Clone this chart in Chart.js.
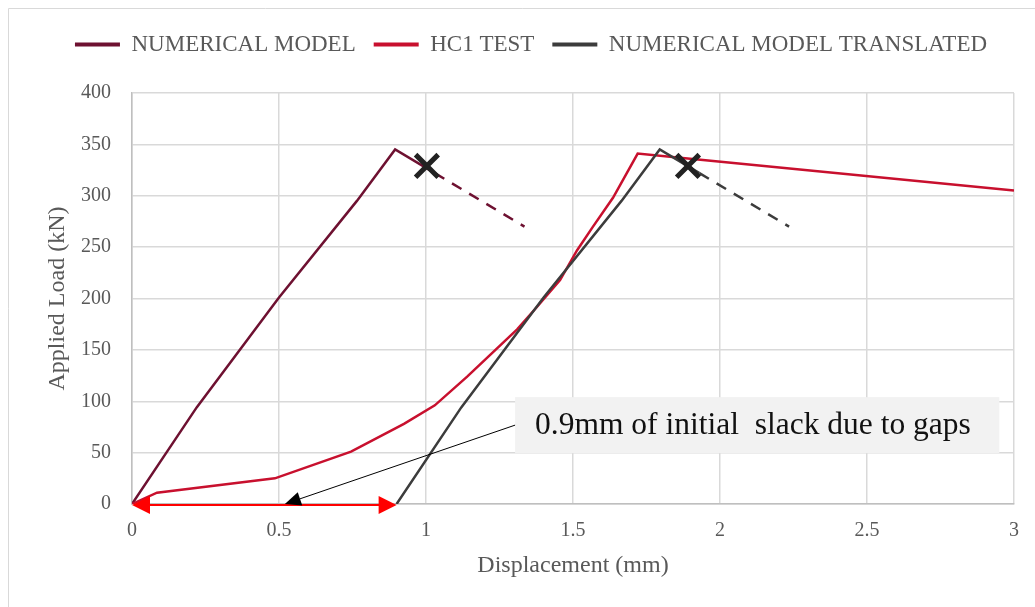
<!DOCTYPE html>
<html>
<head>
<meta charset="utf-8">
<script src="https://cdn.jsdelivr.net/npm/chart.js@4/dist/chart.umd.min.js"></script>
<style>
  html, body { margin: 0; padding: 0; background: #ffffff; }
  #wrap { width: 1035px; height: 607px; }
</style>
</head>
<body>
<div id="wrap"><canvas id="c" width="1035" height="607"></canvas></div>
<script>
// ---- data ----
const seriesNames = ['NUMERICAL MODEL', 'HC1 TEST', 'NUMERICAL MODEL TRANSLATED'];

const numDisp = [0, 0.22, 0.5, 0.765, 0.895, 1.03, 1.335];
const numLoad = [0, 94, 201, 295, 345, 322, 270];

const testDisp = [0, 0.085, 0.486, 0.745, 0.925, 1.03, 1.14, 1.31, 1.378, 1.456, 1.514, 1.568, 1.636, 1.72, 1.864, 3.0];
const testLoad = [0, 11, 25, 51, 78, 96, 124, 170, 192, 218, 247, 270, 298, 341, 337, 305];

const transDisp = [0.9, 1.12, 1.4, 1.665, 1.795, 1.93, 2.235];
const transLoad = [0, 94, 201, 295, 345, 322, 270];

const failDisp = [1.003, 1.891];
const failLoad = [329, 329];

const xTicks = [0, 0.5, 1, 1.5, 2, 2.5, 3];
const xTickLabels = ['0', '0.5', '1', '1.5', '2', '2.5', '3'];
const yTicks = [0, 50, 100, 150, 200, 250, 300, 350, 400];
const yTickLabels = ['0', '50', '100', '150', '200', '250', '300', '350', '400'];

const slackStart = 0, slackEnd = 0.9;          // mm, red double arrow
const noteText = '0.9mm of initial  slack due to gaps';
const notePointer = [0.52, 0];                  // arrow tip (mm, kN)
const noteBox = [1.303, 2.95, 104, 49.5];       // x0, x1, yTop, yBottom (data units)

// ---- helpers ----
const pts = (xs, ys) => xs.map((x, i) => ({ x: x, y: ys[i] }));
const DASH_FROM = 5;
const FONT = "'Liberation Serif', 'Times New Roman', serif";
const GREY = '#595959';

const annotations = {
  id: 'annotations',
  afterInit(chart) {
    const lg = chart.legend;
    if (lg && !lg._patched) {
      const orig = lg.fit.bind(lg);
      lg.fit = function () { orig(); this.height += 27; };
      lg._patched = true;
    }
  },
  beforeDraw(chart) {
    const ctx = chart.ctx;
    ctx.save();
    ctx.strokeStyle = '#d9d9d9';
    ctx.lineWidth = 1;
    ctx.beginPath();
    ctx.moveTo(8.5, 1200); ctx.lineTo(8.5, 8.5); ctx.lineTo(1200, 8.5);
    ctx.stroke();
    ctx.restore();
  },
  afterDatasetsDraw(chart) {
    const ctx = chart.ctx, xs = chart.scales.x, ys = chart.scales.y;
    ctx.save();
    // red double arrow
    const ay = ys.getPixelForValue(0) + 1;
    const ax0 = xs.getPixelForValue(slackStart), ax1 = xs.getPixelForValue(slackEnd);
    ctx.strokeStyle = '#ff0000'; ctx.fillStyle = '#ff0000'; ctx.lineWidth = 2;
    ctx.beginPath(); ctx.moveTo(ax0 + 10, ay); ctx.lineTo(ax1 - 10, ay); ctx.stroke();
    ctx.beginPath(); ctx.moveTo(ax0, ay); ctx.lineTo(ax0 + 18, ay - 9); ctx.lineTo(ax0 + 18, ay + 9); ctx.closePath(); ctx.fill();
    ctx.beginPath(); ctx.moveTo(ax1, ay); ctx.lineTo(ax1 - 18, ay - 9); ctx.lineTo(ax1 - 18, ay + 9); ctx.closePath(); ctx.fill();

    // callout box
    const bx0 = xs.getPixelForValue(noteBox[0]), bx1 = xs.getPixelForValue(noteBox[1]);
    const by0 = ys.getPixelForValue(noteBox[2]), by1 = ys.getPixelForValue(noteBox[3]);
    ctx.fillStyle = '#f2f2f2';
    ctx.fillRect(bx0, by0, bx1 - bx0, by1 - by0);
    ctx.fillStyle = '#111111';
    ctx.font = '31.5px ' + FONT;
    ctx.textBaseline = 'middle';
    ctx.textAlign = 'left';
    ctx.fillText(noteText, bx0 + 20, (by0 + by1) / 2 + 1);

    // black pointer arrow
    const sx = bx0, sy = (by0 + by1) / 2;
    const tx = xs.getPixelForValue(notePointer[0]), ty = ys.getPixelForValue(notePointer[1]);
    const ang = Math.atan2(ty - sy, tx - sx);
    const hl = 16, hw = 7;
    const bxp = tx - hl * Math.cos(ang), byp = ty - hl * Math.sin(ang);
    ctx.strokeStyle = '#000000'; ctx.fillStyle = '#000000'; ctx.lineWidth = 1;
    ctx.beginPath(); ctx.moveTo(sx, sy); ctx.lineTo(bxp, byp); ctx.stroke();
    ctx.beginPath();
    ctx.moveTo(tx, ty);
    ctx.lineTo(bxp + hw * Math.sin(ang), byp - hw * Math.cos(ang));
    ctx.lineTo(bxp - hw * Math.sin(ang), byp + hw * Math.cos(ang));
    ctx.closePath(); ctx.fill();
    ctx.restore();
  }
};

const dashSeg = { borderDash: c => (c.p0DataIndex >= DASH_FROM ? [11, 9] : undefined) };

new Chart(document.getElementById('c'), {
  type: 'scatter',
  data: {
    datasets: [
      { label: seriesNames[0], data: pts(numDisp, numLoad), showLine: true, borderColor: '#6e1131', backgroundColor: '#6e1131',
        borderWidth: 2.5, pointRadius: 0, segment: dashSeg, order: 3 },
      { label: seriesNames[1], data: pts(testDisp, testLoad), showLine: true, borderColor: '#c8102e', backgroundColor: '#c8102e',
        borderWidth: 2.5, pointRadius: 0, order: 2 },
      { label: seriesNames[2], data: pts(transDisp, transLoad), showLine: true, borderColor: '#3c3c3c', backgroundColor: '#3c3c3c',
        borderWidth: 2.5, pointRadius: 0, segment: dashSeg, order: 1 },
      { label: 'failure', data: pts(failDisp, failLoad), showLine: false, pointStyle: 'crossRot', pointRadius: 16,
        pointBorderWidth: 5, borderColor: '#222222', backgroundColor: '#222222', order: 0 }
    ]
  },
  options: {
    responsive: false,
    animation: false,
    devicePixelRatio: 1,
    layout: { padding: { left: 48, right: 21, top: 15, bottom: 0 } },
    plugins: {
      tooltip: { enabled: false },
      legend: {
        position: 'top',
        labels: {
          font: { family: FONT, size: 23 },
          color: GREY,
          usePointStyle: true,
          pointStyle: 'line',
          pointStyleWidth: 45,
          boxWidth: 45,
          padding: 18,
          filter: item => item.datasetIndex < 3,
          sort: (a, b) => a.datasetIndex - b.datasetIndex,
          generateLabels(chart) {
            const items = Chart.defaults.plugins.legend.labels.generateLabels(chart);
            items.forEach(it => { it.lineWidth = 4; it.lineDash = []; it.pointStyle = 'line'; });
            return items;
          }
        }
      }
    },
    scales: {
      x: {
        type: 'linear', min: 0, max: 3,
        afterBuildTicks: s => { s.ticks = xTicks.map(v => ({ value: v })); },
        afterFit: s => { s.height = 103; },
        grid: { color: '#d9d9d9', lineWidth: 1.5, drawTicks: false },
        border: { color: '#bfbfbf', width: 1.5 },
        ticks: { font: { family: FONT, size: 20 }, color: GREY, padding: 15,
                 callback: (v, i) => xTickLabels[xTicks.indexOf(v)] },
        title: { display: true, text: 'Displacement (mm)', font: { family: FONT, size: 24 }, color: GREY,
                 padding: { top: 0, bottom: 26.6 } }
      },
      y: {
        type: 'linear', min: 0, max: 400,
        afterBuildTicks: s => { s.ticks = yTicks.map(v => ({ value: v })); },
        afterFit: s => { s.width = 84; },
        grid: { color: '#d9d9d9', lineWidth: 1.5, drawTicks: false },
        border: { color: '#bfbfbf', width: 1.5 },
        ticks: { font: { family: FONT, size: 20 }, color: GREY, padding: 21,
                 callback: (v, i) => yTickLabels[yTicks.indexOf(v)] },
        title: { display: true, text: 'Applied Load (kN)', font: { family: FONT, size: 24, lineHeight: 0.8 }, color: GREY,
                 padding: { top: 0.4, bottom: 0 } }
      }
    }
  },
  plugins: [annotations]
});
</script>
</body>
</html>
